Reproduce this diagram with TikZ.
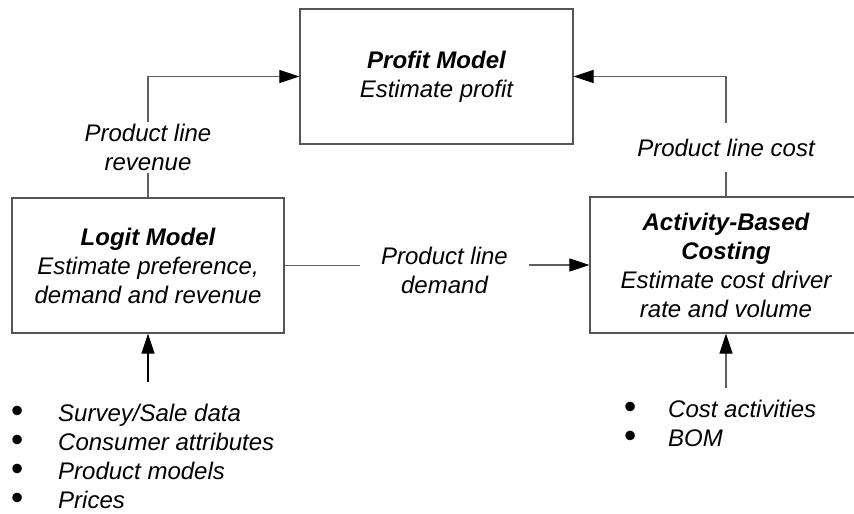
\documentclass[tikz,border=0pt]{standalone}
\usepackage{fontspec}
\setmainfont{Liberation Sans}
\usetikzlibrary{arrows.meta}
\definecolor{linegray}{RGB}{95,95,95}
\definecolor{boxgray}{RGB}{85,85,85}
\newcommand{\blt}{\smash{\raisebox{-0.5pt}{\upshape\scalebox{1.45}{\textbullet}}}}
\begin{document}
\begin{tikzpicture}[x=1pt,y=-1pt,
  every node/.style={font=\fontsize{24}{29}\selectfont\itshape},
  box/.style={draw=boxgray, line width=1.3pt, align=center, inner sep=0pt},
  lbl/.style={align=center, inner xsep=0pt},
  conn/.style={draw=linegray, line width=1.2pt},
  arr/.style={conn, -{Triangle[length=20pt,width=13pt,color=black]}},
  lst/.style={anchor=north west, align=left, inner sep=0pt}
]
\useasboundingbox (0,0) rectangle (854,514);

% boxes
\node[box, minimum width=273pt, minimum height=135pt] (profit) at (436.5,76.5)
  {\textbf{Profit Model}\\Estimate profit};
\node[box, minimum width=272pt, minimum height=135pt] (logit) at (148,265.5)
  {\textbf{Logit Model}\\Estimate preference,\\demand and revenue};
\node[box, minimum width=272pt, minimum height=136pt] (abc) at (726,265)
  {\textbf{Activity-Based}\\\textbf{Costing}\\Estimate cost driver\\rate and volume};

% labels
\node[lbl, inner ysep=2pt] (rev) at (148,147.5) {Product line\\revenue};
\node[lbl, minimum height=49pt] (cost) at (726,147.5) {Product line cost};
\node[lbl, minimum width=169pt] (dem) at (444.5,270.5) {Product line\\demand};

% lists
\node[lst] (inL) at (11,404)
  {\makebox[47pt][l]{\blt}Survey/Sale data\\
   \makebox[47pt][l]{\blt}Consumer attributes\\
   \makebox[47pt][l]{\blt}Product models\\
   \makebox[47pt][l]{\blt}Prices};
\node[lst] (inR) at (624,400)
  {\makebox[44pt][l]{\blt}Cost activities\\
   \makebox[44pt][l]{\blt}BOM};

\coordinate (srcL) at (148,382);
\coordinate (srcR) at (726,388);

% connectors
\draw[conn] (logit.north) -- (rev.south);
\draw[arr] (rev.north) |- (profit.west);
\draw[conn] (abc.north) -- (cost.south);
\draw[arr] (cost.north) |- (profit.east);
\draw[conn] (logit.east) -- (dem.west |- logit.east);
\draw[arr] (dem.east |- abc.west) -- (abc.west);
\draw[arr, draw=black] (srcL) -- (logit.south);
\draw[arr] (srcR) -- (abc.south);
\end{tikzpicture}
\end{document}
